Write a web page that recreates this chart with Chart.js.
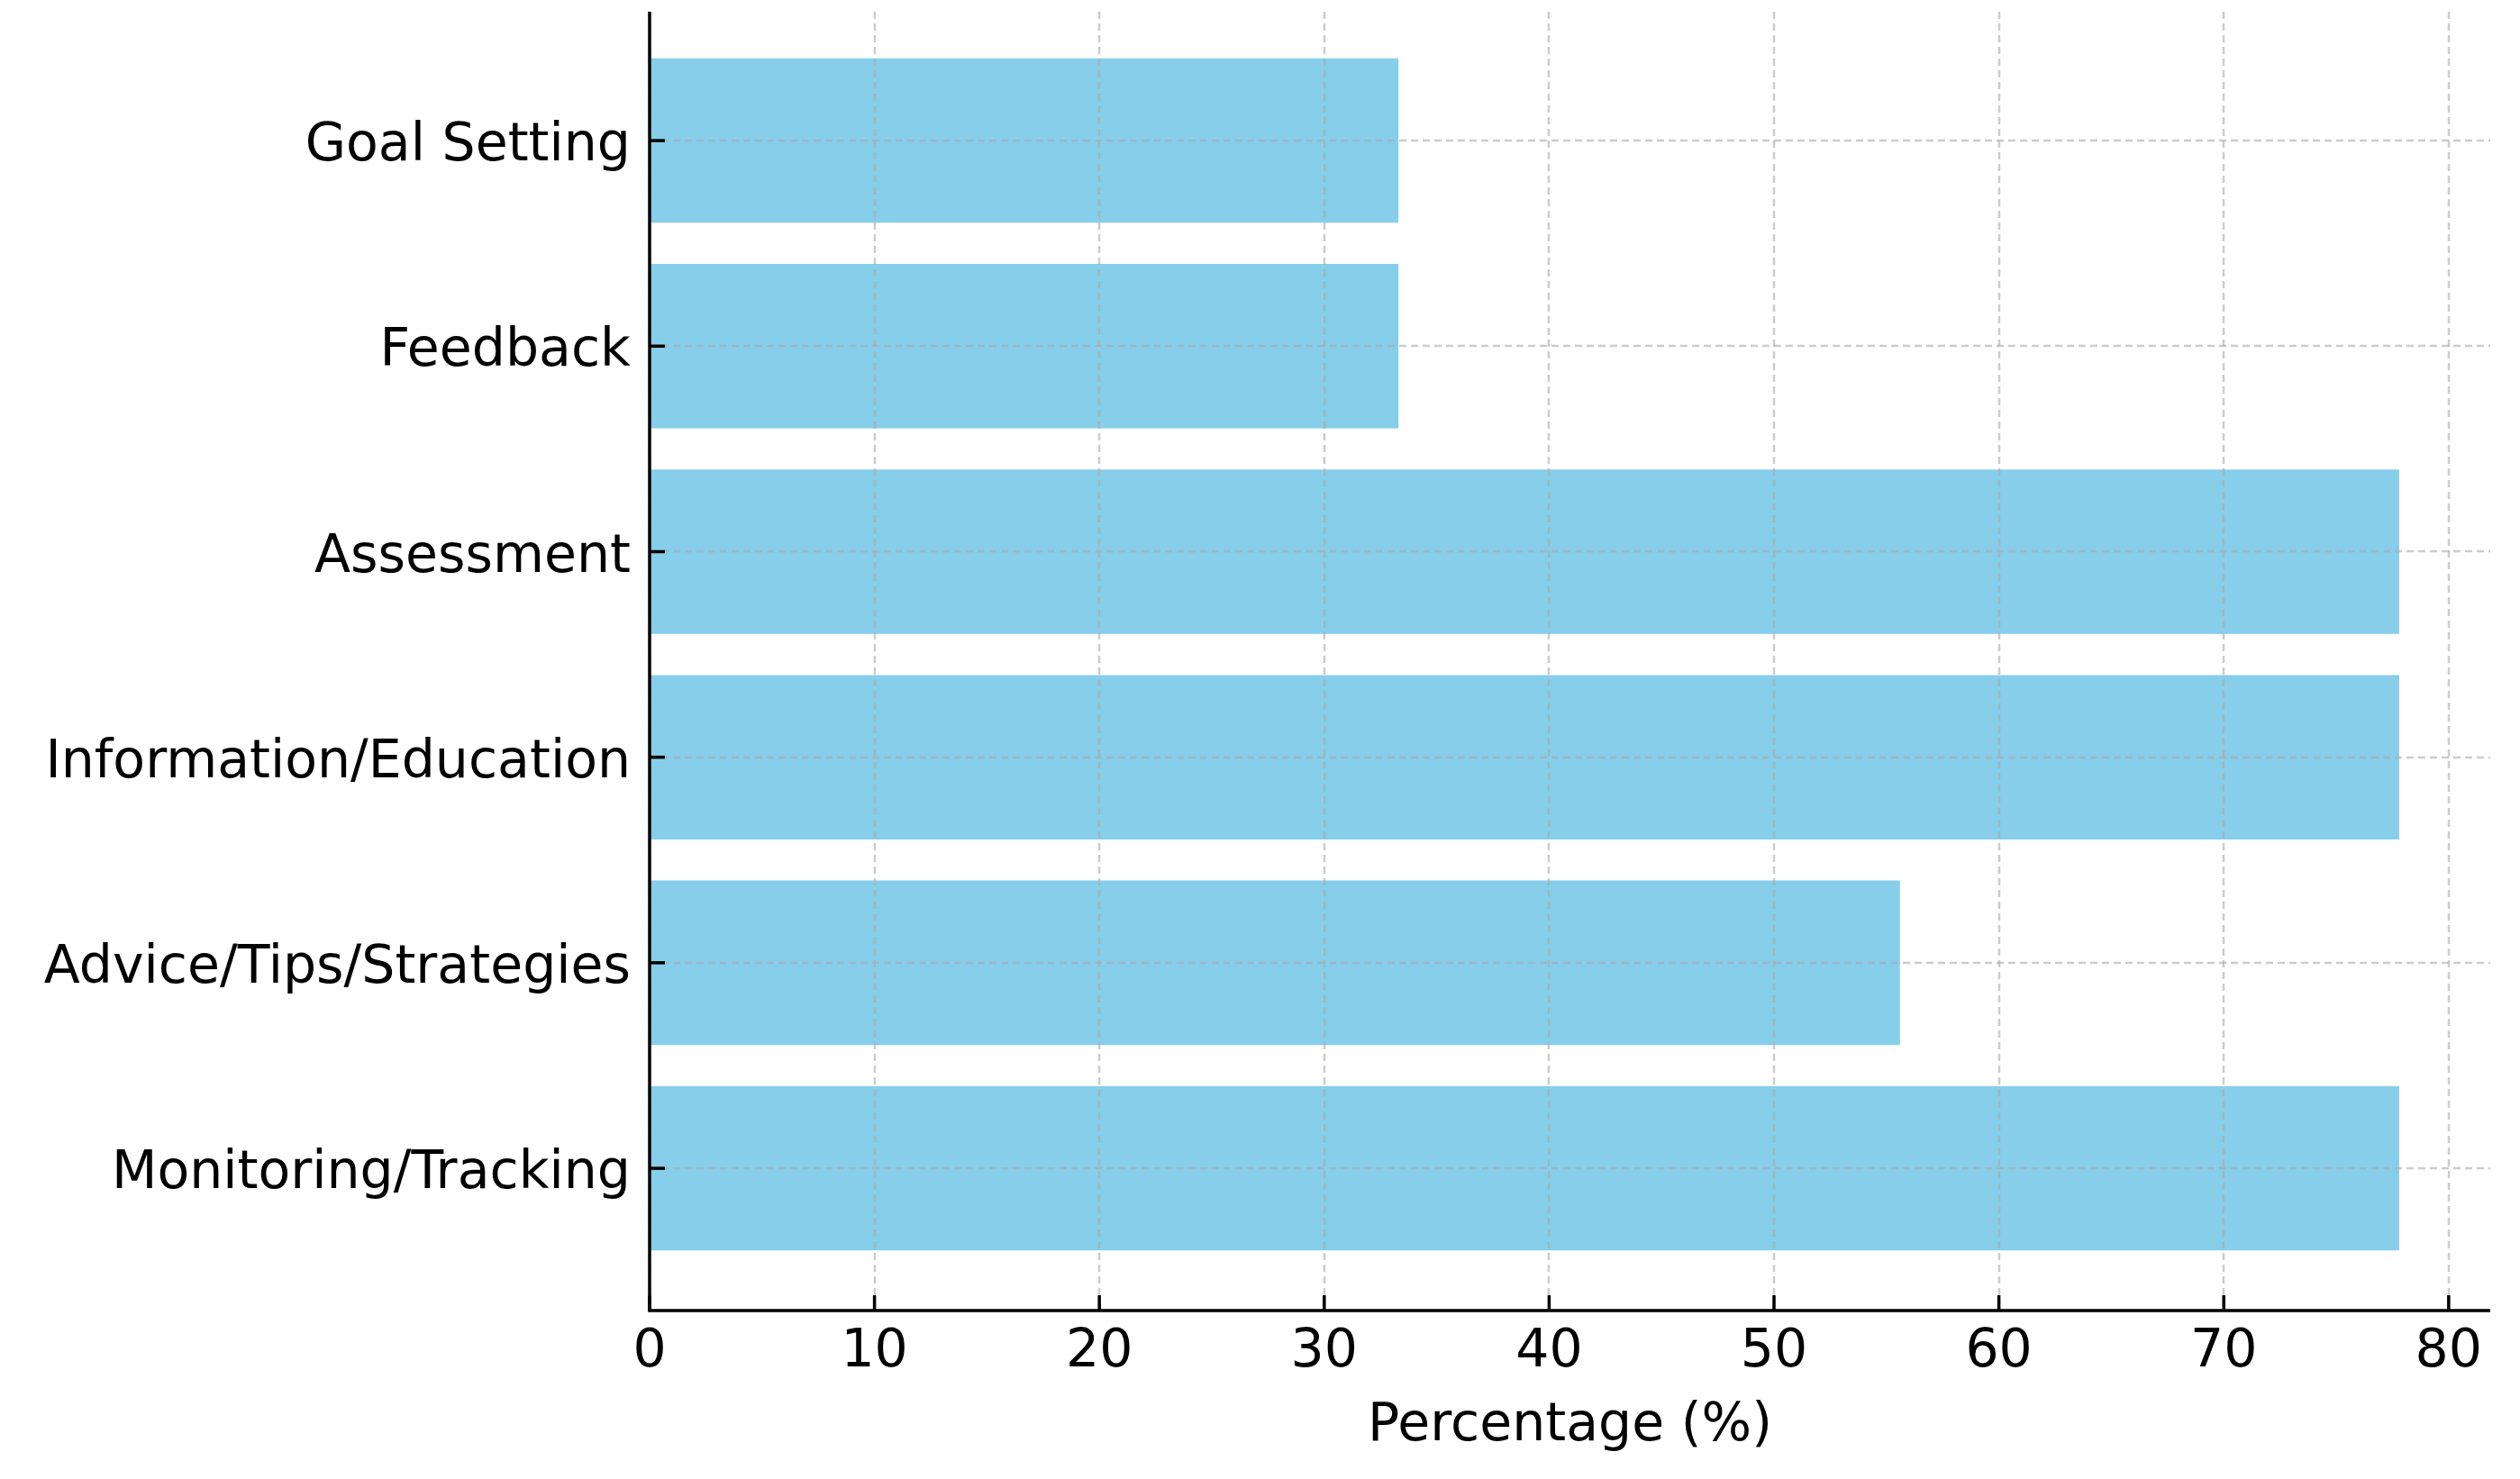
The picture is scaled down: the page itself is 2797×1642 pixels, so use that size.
<!DOCTYPE html>
<html>
<head>
<meta charset="utf-8">
<script src="https://cdn.jsdelivr.net/npm/chart.js@4.4.1/dist/chart.umd.min.js"></script>
<style>
  html, body { margin: 0; padding: 0; background: #fff; }
  canvas { display: block; }
</style>
</head>
<body>
<canvas id="barChart" width="2797" height="1642"></canvas>
<script>
// categories top to bottom
const categories = ['Goal Setting', 'Feedback', 'Assessment', 'Information/Education', 'Advice/Tips/Strategies', 'Monitoring/Tracking'];
const percentages = [33.3, 33.3, 77.8, 77.8, 55.6, 77.8];
const xTicks = [0, 10, 20, 30, 40, 50, 60, 70, 80];

const FONT = 'DejaVu Sans';
const FONT_SIZE = 58.5;

// dashed grid, inward ticks and spines drawn above the bars
const overlayPlugin = {
    id: 'overlay',
    afterDatasetsDraw(chart) {
        const { ctx, chartArea, scales } = chart;
        const x = scales.x, y = scales.y;
        ctx.save();
        ctx.strokeStyle = 'rgba(170,170,170,0.6)';
        ctx.lineWidth = 2.5;
        ctx.setLineDash([8, 5]);
        xTicks.forEach(v => {
            const px = Math.round(x.getPixelForValue(v));
            ctx.beginPath();
            ctx.moveTo(px, chartArea.top);
            ctx.lineTo(px, chartArea.bottom);
            ctx.stroke();
        });
        categories.forEach((c, i) => {
            const py = Math.round(y.getPixelForValue(i));
            ctx.beginPath();
            ctx.moveTo(chartArea.left, py);
            ctx.lineTo(chartArea.right, py);
            ctx.stroke();
        });
        ctx.setLineDash([]);
        ctx.strokeStyle = '#000';
        ctx.lineWidth = 3.5;
        xTicks.forEach(v => {
            const px = x.getPixelForValue(v);
            ctx.beginPath();
            ctx.moveTo(px, chartArea.bottom);
            ctx.lineTo(px, chartArea.bottom - 17);
            ctx.stroke();
        });
        categories.forEach((c, i) => {
            const py = y.getPixelForValue(i);
            ctx.beginPath();
            ctx.moveTo(chartArea.left, py);
            ctx.lineTo(chartArea.left + 17, py);
            ctx.stroke();
        });
        ctx.beginPath();
        ctx.moveTo(chartArea.left, chartArea.top);
        ctx.lineTo(chartArea.left, chartArea.bottom);
        ctx.lineTo(chartArea.right, chartArea.bottom);
        ctx.stroke();
        ctx.restore();
    }
};

const ctx = document.getElementById('barChart').getContext('2d');
new Chart(ctx, {
    type: 'bar',
    data: {
        datasets: [{
            data: percentages.map((v, i) => ({ x: v, y: i })),
            backgroundColor: '#87CEEB',
            borderWidth: 0,
            categoryPercentage: 1.0,
            barPercentage: 0.8
        }]
    },
    plugins: [overlayPlugin],
    options: {
        indexAxis: 'y',
        responsive: false,
        devicePixelRatio: 1,
        animation: false,
        layout: { padding: { top: 13, right: 33, left: 0, bottom: 0 } },
        plugins: { legend: { display: false }, tooltip: { enabled: false } },
        scales: {
            x: {
                type: 'linear',
                min: 0,
                max: 81.85,
                afterBuildTicks: s => { s.ticks = xTicks.map(v => ({ value: v })); },
                afterFit: s => { s.height = 187; s.paddingLeft = 0; s.paddingRight = 0; },
                grid: { display: false, drawTicks: false },
                border: { display: false },
                ticks: { color: '#000', padding: 12, font: { family: FONT, size: FONT_SIZE } },
                title: {
                    display: true,
                    text: 'Percentage (%)',
                    color: '#000',
                    font: { family: FONT, size: FONT_SIZE },
                    padding: { top: 0, bottom: 23 }
                }
            },
            y: {
                type: 'linear',
                reverse: true,
                offset: false,
                min: -0.627,
                max: 5.692,
                afterBuildTicks: s => { s.ticks = categories.map((c, i) => ({ value: i })); },
                afterFit: s => { s.width = 721; s.paddingTop = 0; s.paddingBottom = 0; },
                grid: { display: false, drawTicks: false, offset: false },
                border: { display: false },
                ticks: {
                    color: '#000',
                    padding: 21,
                    labelOffset: 7,
                    font: { family: FONT, size: FONT_SIZE },
                    callback: v => categories[v]
                }
            }
        }
    }
});
</script>
</body>
</html>
